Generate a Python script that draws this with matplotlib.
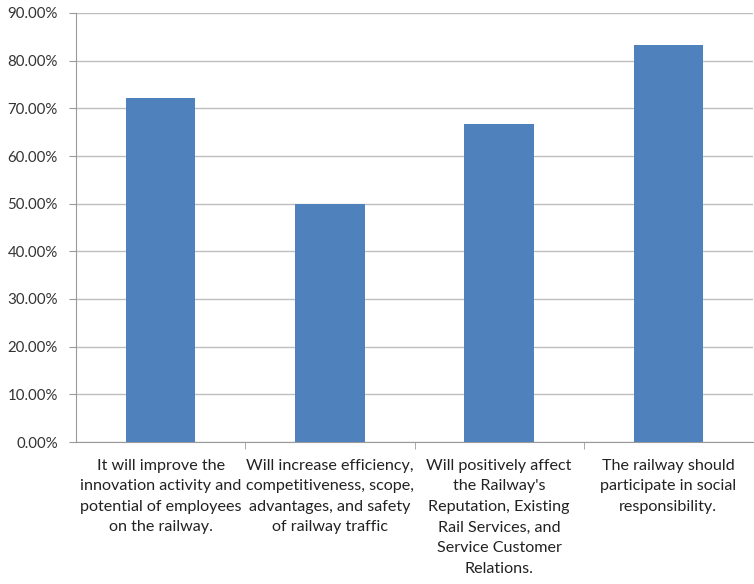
import matplotlib.pyplot as plt
from matplotlib.ticker import PercentFormatter

categories = [
    "It will improve the\ninnovation activity and\npotential of employees\non the railway.",
    "Will increase efficiency,\ncompetitiveness, scope,\nadvantages, and safety\nof railway traffic",
    "Will positively affect\nthe Railway's\nReputation, Existing\nRail Services, and\nService Customer\nRelations.",
    "The railway should\nparticipate in social\nresponsibility.",
]
shares = [0.7222, 0.50, 0.6667, 0.8333]
y_ticks = [0.0, 0.1, 0.2, 0.3, 0.4, 0.5, 0.6, 0.7, 0.8, 0.9]

plt.rcParams['font.family'] = ['Lato', 'DejaVu Sans']

fig = plt.figure(figsize=(7.54, 5.84), dpi=100)
ax = fig.add_axes([76 / 754, 142 / 584, 677 / 754, 429 / 584])

x = list(range(len(categories)))
ax.bar(x, shares, width=0.41, color="#4F81BD", zorder=3)

ax.set_xlim(-0.5, len(categories) - 0.5)
ax.set_ylim(0, 0.9)
ax.set_yticks(y_ticks)
ax.yaxis.set_major_formatter(PercentFormatter(1.0, decimals=2))
ax.grid(axis="y", color="#BEBEBE", linewidth=1.0, zorder=0)

# category labels centred under bars, ticks on the boundaries
ax.set_xticks(x)
ax.set_xticklabels(categories, fontsize=11.6, color="#222222", linespacing=1.6)
ax.tick_params(axis="x", length=0, pad=12)
ax.set_xticks([0.5, 1.5, 2.5], minor=True)
ax.tick_params(axis="x", which="minor", length=5, color="#9A9A9A")
ax.tick_params(axis="y", length=5, color="#9A9A9A", labelsize=10.8, labelcolor="#333333", pad=8)

for side in ["top", "right"]:
    ax.spines[side].set_visible(False)
ax.spines["left"].set_color("#9A9A9A")
ax.spines["bottom"].set_color("#9A9A9A")

fig.savefig("out.png", dpi=100)
